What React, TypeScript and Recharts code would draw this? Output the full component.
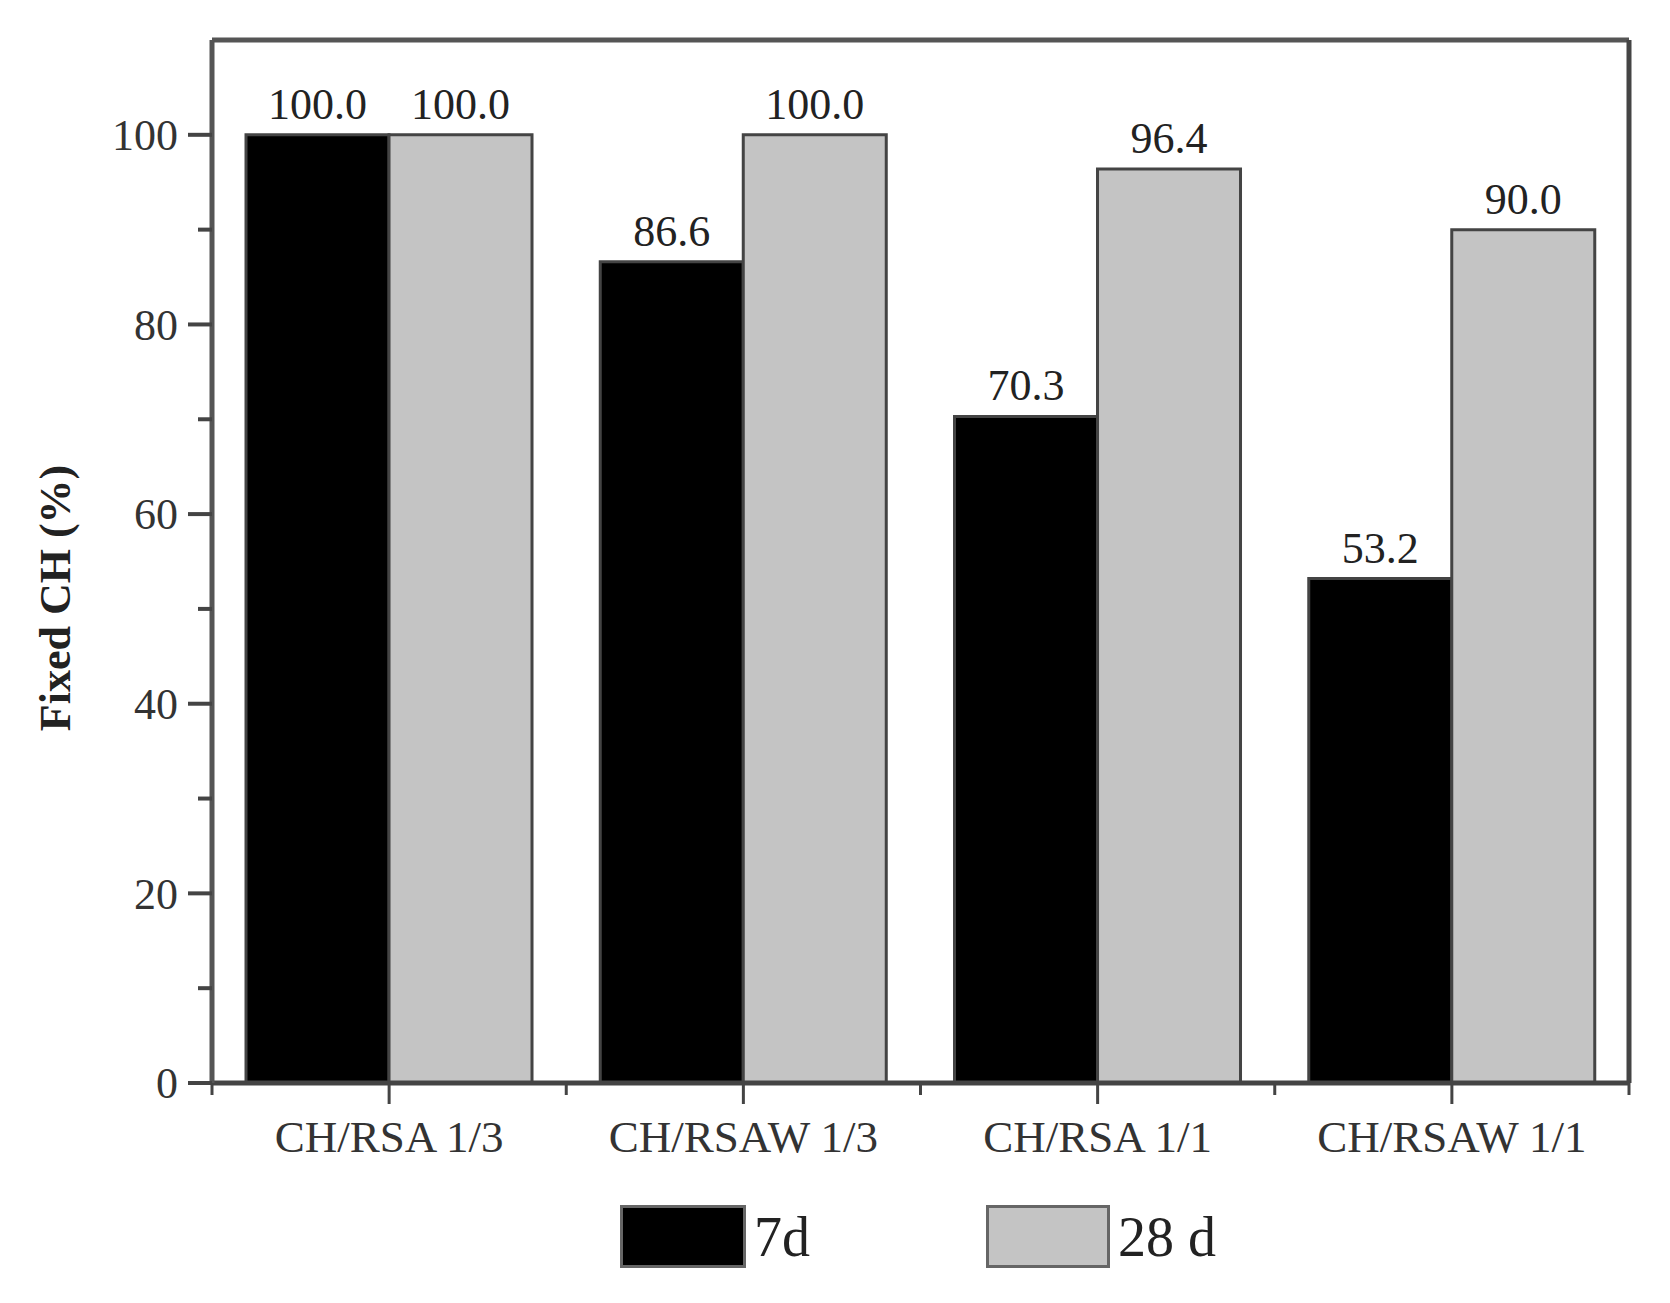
import React from 'react';
import { BarChart, Bar, XAxis, YAxis, LabelList, Legend, ReferenceLine, Label } from 'recharts';

const categories = ['CH/RSA 1/3', 'CH/RSAW 1/3', 'CH/RSA 1/1', 'CH/RSAW 1/1'];
const fixed7d = [100.0, 86.6, 70.3, 53.2];
const fixed28d = [100.0, 100.0, 96.4, 90.0];
const seriesNames = ['7d', '28 d'];
const yTicks = [0, 10, 20, 30, 40, 50, 60, 70, 80, 90, 100];

const data = categories.map((name, i) => ({ name, d7: fixed7d[i], d28: fixed28d[i] }));

const FONT = '"Liberation Serif", "DejaVu Serif", serif';
const AXIS = '#444';

const YTick = (props: any) => {
  const { x, y, payload } = props;
  const major = payload.value % 20 === 0;
  return (
    <g>
      <line x1={x} x2={x - (major ? 24 : 14)} y1={y} y2={y} stroke={AXIS} strokeWidth={4} />
      {major && (
        <text x={x - 34} y={y} dy="0.35em" textAnchor="end" fontSize={44} fill="#333" fontFamily={FONT}>
          {payload.value}
        </text>
      )}
    </g>
  );
};

const XTick = (props: any) => {
  const { x, y, payload, index, visibleTicksCount } = props;
  const half = payload.offset ?? 177;
  const last = index === visibleTicksCount - 1;
  return (
    <g>
      <line x1={x} x2={x} y1={y} y2={y + 21} stroke={AXIS} strokeWidth={3} />
      <line x1={x - half} x2={x - half} y1={y} y2={y + 12} stroke={AXIS} strokeWidth={3} />
      {last && <line x1={x + half} x2={x + half} y1={y} y2={y + 12} stroke={AXIS} strokeWidth={3} />}
      <text x={x} y={y + 69} textAnchor="middle" fontSize={45} fill="#333" fontFamily={FONT}>
        {payload.value}
      </text>
    </g>
  );
};

const LegendContent = (props: any) => {
  const items = [...(props.payload || [])].sort(
    (a: any, b: any) => seriesNames.indexOf(a.value) - seriesNames.indexOf(b.value)
  );
  return (
    <div style={{ display: 'flex', alignItems: 'center', paddingLeft: 620, height: 65, fontFamily: FONT }}>
      {items.map((entry: any, i: number) => (
        <div key={entry.value} style={{ display: 'flex', alignItems: 'center', marginLeft: i === 0 ? 0 : 176 }}>
          <div
            style={{
              width: i === 0 ? 120 : 118,
              height: 57,
              background: entry.color,
              border: '3px solid #666',
            }}
          />
          <span style={{ marginLeft: 8, fontSize: 56, color: '#222', lineHeight: 1 }}>{entry.value}</span>
        </div>
      ))}
    </div>
  );
};

const App: React.FC = () => {
  return (
    <div style={{ position: 'absolute', left: 0, top: 0, width: 1670, height: 1303, background: '#fff' }}>
      <BarChart
        width={1670}
        height={1303}
        data={data}
        margin={{ top: 40, right: 0, left: 0, bottom: 0 }}
        barCategoryGap="9.6%"
        barGap={0}
      >
        <XAxis
          dataKey="name"
          height={220}
          tick={<XTick />}
          tickLine={false}
          tickSize={0}
          tickMargin={0}
          interval={0}
          axisLine={{ stroke: AXIS, strokeWidth: 5 }}
        />
        <YAxis
          width={212}
          domain={[0, 110]}
          ticks={yTicks}
          interval={0}
          tick={<YTick />}
          tickLine={false}
          tickSize={0}
          tickMargin={0}
          axisLine={{ stroke: '#555', strokeWidth: 5 }}
        >
          <Label
            content={() => (
              <text
                x={55}
                y={598}
                transform="rotate(-90 55 598)"
                textAnchor="middle"
                dominantBaseline="central"
                fontSize={44}
                fontWeight="bold"
                fill="#222"
                fontFamily={FONT}
              >
                Fixed CH (%)
              </text>
            )}
          />
        </YAxis>
        <YAxis
          yAxisId="right"
          orientation="right"
          width={41}
          domain={[0, 110]}
          tick={false}
          tickLine={false}
          axisLine={{ stroke: AXIS, strokeWidth: 5 }}
        />
        <ReferenceLine y={110} stroke="#555" strokeWidth={5} />
        <Legend
          layout="horizontal"
          verticalAlign="middle"
          align="center"
          content={<LegendContent />}
          wrapperStyle={{ top: 1204, left: 0, width: 1670, height: 65 }}
        />
        <Bar dataKey="d7" name={seriesNames[0]} fill="#000" stroke={AXIS} strokeWidth={3} isAnimationActive={false}>
          <LabelList
            dataKey="d7"
            position="top"
            offset={16}
            formatter={(v: any) => Number(v).toFixed(1)}
            fontSize={44}
            fill="#222"
            fontFamily={FONT}
          />
        </Bar>
        <Bar dataKey="d28" name={seriesNames[1]} fill="#c4c4c4" stroke={AXIS} strokeWidth={3} isAnimationActive={false}>
          <LabelList
            dataKey="d28"
            position="top"
            offset={16}
            formatter={(v: any) => Number(v).toFixed(1)}
            fontSize={44}
            fill="#222"
            fontFamily={FONT}
          />
        </Bar>
      </BarChart>
    </div>
  );
};

export default App;
